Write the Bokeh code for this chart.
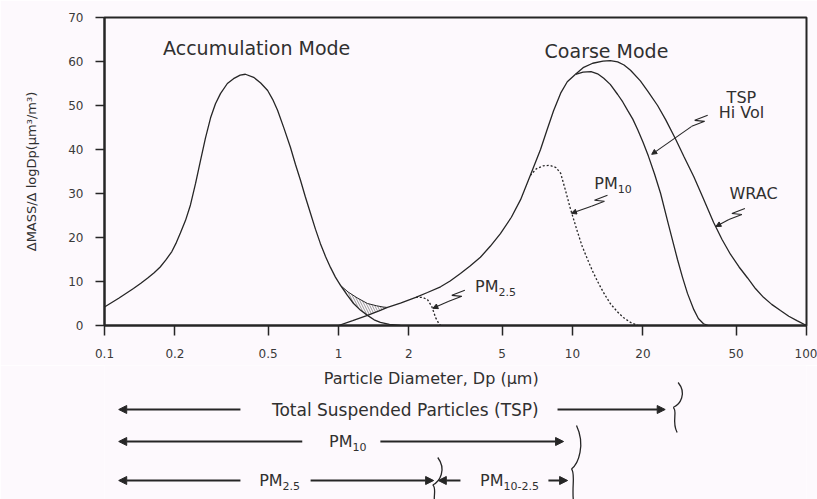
from bokeh.plotting import figure
from bokeh.layouts import column
from bokeh.models import Range1d, FixedTicker, CustomJSTickFormatter, Arrow, NormalHead
from bokeh.core.properties import value
from bokeh.embed import file_html
from bokeh.resources import INLINE

# ---------------- data ----------------
x_ticks = [0.1, 0.2, 0.5, 1, 2, 5, 10, 20, 50, 100]
y_ticks = [0, 10, 20, 30, 40, 50, 60, 70]

accum_x = [0.10, 0.115, 0.133, 0.143, 0.153, 0.163, 0.173, 0.183, 0.194, 0.203, 0.211,
           0.222, 0.233, 0.245, 0.257, 0.27, 0.284, 0.298, 0.313, 0.335, 0.356, 0.38,
           0.40, 0.434, 0.465, 0.498, 0.523, 0.549, 0.585, 0.623, 0.655, 0.688, 0.722,
           0.759, 0.797, 0.837, 0.88, 0.924, 0.97, 1.02, 1.09, 1.16, 1.24, 1.33, 1.42,
           1.51, 1.65, 1.84]
accum_y = [4.2, 6.2, 8.4, 9.6, 10.8, 12.0, 13.3, 14.9, 16.8, 18.9, 21.0,
           23.9, 27.4, 32.3, 37.4, 42.6, 47.2, 50.4, 52.7, 55.0, 56.1, 56.9,
           57.1, 56.4, 55.1, 53.4, 51.4, 48.9, 44.8, 40.5, 36.6, 33.0, 29.2,
           25.5, 21.9, 18.6, 15.7, 13.2, 11.0, 9.1, 6.9, 5.0, 3.5, 2.3, 1.3,
           0.7, 0.25, 0.0]

coarse_x = [1.0, 1.15, 1.33, 1.5, 1.62, 1.84, 2.14, 2.4, 2.73, 3.0, 3.32, 3.65, 4.04,
            4.45, 4.92, 5.48, 6.0, 6.6, 7.3, 7.8, 8.3, 8.9, 9.5, 10.3]
coarse_y = [0.0, 1.1, 2.3, 3.4, 4.1, 5.1, 6.4, 7.5, 8.8, 10.1, 11.8, 13.5, 15.5,
            18.0, 20.9, 24.6, 28.6, 34.1, 40.0, 44.6, 48.8, 52.8, 55.4, 57.1]

tsp_x = [10.3, 11.1, 12.0, 12.8, 13.6, 14.5, 15.6, 16.4, 17.2, 18.1, 19.0, 20.0, 21.1,
         22.4, 23.8, 25.7, 28.1, 29.5, 31.0, 33.0, 34.5, 36.3, 38.0]
tsp_y = [57.1, 57.6, 57.7, 57.2, 56.2, 54.8, 52.5, 50.8, 48.9, 46.9, 44.5, 41.7, 38.5,
         34.5, 30.0, 23.0, 15.0, 11.0, 7.3, 3.6, 1.6, 0.4, 0.0]

wrac_x = [10.3, 11.1, 12.2, 13.5, 14.5, 15.6, 16.6, 17.7, 19.5, 21.0, 23.1, 25.0, 27.5,
          30.0, 33.0, 36.0, 40.1, 43.5, 47.3, 51.5, 56.0, 60.5, 65.5, 71.0, 77.4, 84.0,
          91.0, 100.0]
wrac_y = [57.1, 58.6, 59.6, 60.1, 60.2, 59.9, 59.2, 58.0, 55.6, 53.2, 50.0, 46.8, 42.5,
          38.3, 33.8, 29.2, 23.4, 19.6, 16.2, 13.3, 10.8, 8.4, 6.4, 4.8, 3.4, 2.1,
          1.1, 0.0]

pm10_x = [6.6, 7.0, 7.5, 8.0, 8.5, 8.9, 9.3, 9.8, 10.5, 11.0, 11.6, 12.2, 12.8, 13.6,
          14.5, 15.5, 16.5, 17.7, 19.0]
pm10_y = [34.1, 35.6, 36.3, 36.4, 35.9, 34.6, 31.0, 26.5, 21.3, 18.0, 15.0, 12.3, 10.0,
          7.4, 5.0, 3.2, 1.8, 0.7, 0.0]

pm25_x = [2.14, 2.28, 2.40, 2.50, 2.60, 2.68, 2.73]
pm25_y = [6.4, 6.4, 5.9, 4.4, 1.8, 0.5, 0.0]

hatch_x = [1.02, 1.10, 1.20, 1.33, 1.45, 1.55, 1.62]
hatch_top = [9.1, 7.6, 6.3, 5.0, 4.5, 4.2, 4.1]
hatch_bottom = [9.1, 6.6, 4.3, 2.3, 3.1, 3.7, 4.1]

mode_text = ["Accumulation Mode", "Coarse Mode"]
mode_x = [0.447, 13.97]
mode_y = [63.0, 62.5]

curve_text = ["TSP", "Hi Vol", "WRAC"]
curve_x = [52.7, 52.7, 59.4]
curve_y = [51.8, 48.4, 30.0]

pm_label_sub = ["10", "2.5"]
pm_label_x = [15.6, 4.83]
pm_label_y = [32.3, 8.9]

leader_tip_x = [21.8, 9.9, 2.53, 41.0]
leader_tip_y = [38.9, 25.5, 3.9, 22.5]
leader_tail_dx = [40, 20, 16, 13]     # px
leader_tail_dy = [-28, -7, -7, -7]    # px (down positive)

# bottom size-range diagram
range_arrow_from = [0.381, 8.63, 0.70, 1.51, 0.381, 0.76, 3.32, 7.89]
range_arrow_to = [0.115, 24.9, 0.115, 9.16, 0.115, 2.55, 2.67, 9.53]
range_arrow_row = [409, 409, 441, 441, 480, 480, 480, 480]

range_text = ["Total Suspended Particles (TSP)"]
range_text_x = [1.93]
range_text_row = [409]

range_pm_sub = ["10", "2.5", "10-2.5"]
range_pm_x = [1.148, 0.577, 5.07]
range_pm_row = [441, 480, 480]

brace_x = [28.0, 10.3, 2.63]
brace_top = [382, 425, 457]
brace_bottom = [432, 512, 512]

# ---------------- layout / style ----------------
W = 817
BL, BR = 104, 11
TOP, FRAME_H, BOT = 17, 308, 40
H1 = TOP + FRAME_H + BOT
H2 = 499 - H1
FIG2_TOP = H1
FRAME_W = W - BL - BR
DEC = FRAME_W / 3.0
UNIT = FRAME_H / 70.0
BG = "#fdf9fd"
INK = "#262626"
TXT = "#303030"
FONT = "DejaVu Sans"

xr = Range1d(0.1, 100)

p = figure(width=W, height=H1, x_axis_type="log", x_range=xr, y_range=Range1d(0, 70),
           output_backend="svg", toolbar_location=None,
           min_border_left=BL, min_border_right=BR, min_border_top=TOP, min_border_bottom=BOT)
p.background_fill_color = BG
p.border_fill_color = BG
p.outline_line_color = INK
p.outline_line_width = 2
p.grid.visible = False

p.xaxis.ticker = FixedTicker(ticks=x_ticks)
p.xaxis.formatter = CustomJSTickFormatter(code="return tick.toString();")
p.yaxis.ticker = FixedTicker(ticks=y_ticks)
for ax in (p.xaxis[0], p.yaxis[0]):
    ax.axis_line_color = INK
    ax.axis_line_width = 2
    ax.major_tick_line_color = INK
    ax.major_tick_line_width = 1.5
    ax.major_tick_in = 0
    ax.minor_tick_line_color = None
    ax.major_label_text_font = FONT
    ax.major_label_text_font_size = "12px"
    ax.major_label_text_color = "#3a3a3a"
p.xaxis.major_tick_out = 10
p.xaxis.major_label_standoff = 13
p.yaxis.major_tick_out = 9
p.yaxis.major_label_standoff = 12
p.yaxis.axis_label = "\u0394MASS/\u0394 logDp(\u00b5m\u00b3/m\u00b3)"
p.yaxis.axis_label_text_font = FONT
p.yaxis.axis_label_text_font_size = "13px"
p.yaxis.axis_label_text_font_style = "normal"
p.yaxis.axis_label_text_color = TXT
p.yaxis.axis_label_standoff = 26

# hatched overlap region
p.varea(x=hatch_x, y1=hatch_bottom, y2=hatch_top, fill_alpha=0,
        hatch_pattern="\\", hatch_color="#707070", hatch_scale=5, hatch_weight=0.7, hatch_alpha=1)

lw = 1.3
p.line(accum_x, accum_y, line_color=INK, line_width=lw)
p.line(coarse_x, coarse_y, line_color=INK, line_width=lw)
p.line(tsp_x, tsp_y, line_color=INK, line_width=lw)
p.line(wrac_x, wrac_y, line_color=INK, line_width=lw)
p.line(hatch_x, hatch_top, line_color=INK, line_width=1.0)
p.line(pm10_x, pm10_y, line_color=INK, line_width=1.3, line_dash="2 2")
p.line(pm25_x, pm25_y, line_color=INK, line_width=1.3, line_dash="2 2")


def txt(fig, xs, ys, texts, size, align="center"):
    fig.text(x=xs, y=ys, text=texts, text_font=value(FONT), text_font_size=value(size),
             text_align=align, text_baseline="middle", text_color=TXT)


txt(p, mode_x, mode_y, mode_text, "19px")
txt(p, curve_x, curve_y, curve_text, "16px")
txt(p, pm_label_x, pm_label_y, ["PM"] * len(pm_label_x), "16px", "right")
txt(p, pm_label_x, [y - 5.5 / UNIT for y in pm_label_y], pm_label_sub, "11px", "left")

# squiggle leaders with arrow heads
squiggle = [(0, 0), (13, -5), (3, -6), (16, -11)]
for tx, ty, dx, dy in zip(leader_tip_x, leader_tip_y, leader_tail_dx, leader_tail_dy):
    sx = [tx * 10 ** ((dx + a) / DEC) for a, b in squiggle]
    sy = [ty - (dy + b) / UNIT for a, b in squiggle]
    p.line(sx, sy, line_color=INK, line_width=1.1)
    p.add_layout(Arrow(x_start=sx[0], y_start=sy[0], x_end=tx, y_end=ty,
                       line_color=INK, line_width=1.1,
                       end=NormalHead(size=5, fill_color=INK, line_color=INK)))

# ---------------- lower diagram ----------------
q = figure(width=W, height=H2, x_axis_type="log", x_range=xr, y_range=Range1d(0, H2),
           output_backend="svg", toolbar_location=None,
           x_axis_location=None, y_axis_location=None,
           min_border_left=BL, min_border_right=BR, min_border_top=0, min_border_bottom=0)
q.background_fill_color = BG
q.border_fill_color = BG
q.outline_line_color = None
q.grid.visible = False


def row_y(page_y):
    return H2 - (page_y - FIG2_TOP)


def shift(x, dpx):
    return x * 10 ** (dpx / DEC)


txt(q, [2.49], [row_y(378)], ["Particle Diameter, Dp (\u00b5m)"], "16px")
txt(q, range_text_x, [row_y(r) for r in range_text_row], range_text, "17px")
txt(q, range_pm_x, [row_y(r) for r in range_pm_row], ["PM"] * len(range_pm_x), "16px", "right")
txt(q, range_pm_x, [row_y(r) - 5 for r in range_pm_row], range_pm_sub, "11px", "left")

for x0, x1, r in zip(range_arrow_from, range_arrow_to, range_arrow_row):
    y = row_y(r)
    q.add_layout(Arrow(x_start=x0, y_start=y, x_end=x1, y_end=y, line_color=INK, line_width=1.8,
                       end=NormalHead(size=8, fill_color=INK, line_color=INK)))

bx0, by0, bx1, by1, bcx0, bcy0, bcx1, bcy1 = [], [], [], [], [], [], [], []
for xc, t, b in zip(brace_x, brace_top, brace_bottom):
    h = b - t
    m = t + 0.5 * h
    segs = [((1, t), (10, t + 0.22 * h), (3, m - 0.06 * h), (-4, m)),
            ((-4, m), (1, m + 0.06 * h), (-6, b - 0.22 * h), (0, b))]
    for s in segs:
        bx0.append(shift(xc, s[0][0])); by0.append(row_y(s[0][1]))
        bcx0.append(shift(xc, s[1][0])); bcy0.append(row_y(s[1][1]))
        bcx1.append(shift(xc, s[2][0])); bcy1.append(row_y(s[2][1]))
        bx1.append(shift(xc, s[3][0])); by1.append(row_y(s[3][1]))
q.bezier(x0=bx0, y0=by0, x1=bx1, y1=by1, cx0=bcx0, cy0=bcy0, cx1=bcx1, cy1=bcy1,
         line_color=INK, line_width=1.3)

layout = column(p, q)
open("out.html", "w").write(file_html(layout, INLINE))
